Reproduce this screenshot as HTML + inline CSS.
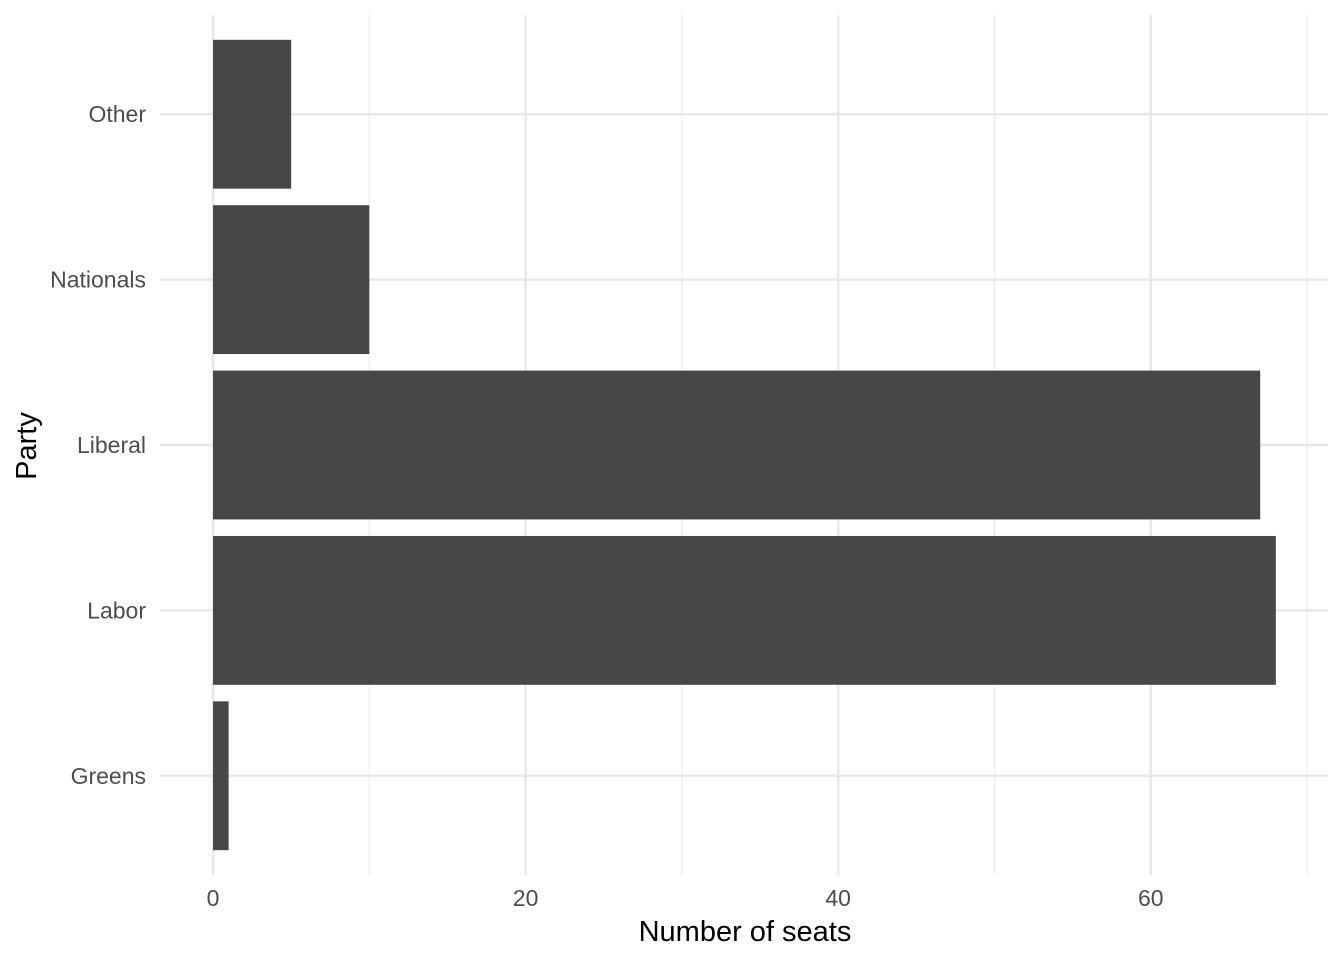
<!DOCTYPE html>
<html><head><meta charset="utf-8"><style>
html,body{margin:0;padding:0;background:#fff;}
svg{display:block;font-family:"Liberation Sans",Arial,sans-serif;}
</style></head><body>
<svg id="chart" width="1344" height="960"></svg>
<script>
const categories = ["Greens","Labor","Liberal","Nationals","Other"];
const seats = [1, 68, 67, 10, 5];
const xTicks = [0, 20, 40, 60];
const xMinor = [10, 30, 50, 70];

const NS = "http://www.w3.org/2000/svg";
const svg = document.getElementById("chart");
const panel = {left:160, right:1328, top:15, bottom:875};
const x0px = 213, pxPerUnit = 15.63;
function xs(v){ return x0px + v * pxPerUnit; }
const bandStep = (panel.bottom - panel.top) / (categories.length + 0.2);
function ys(i){ return panel.bottom - bandStep * (0.6 + i); }

function mk(tag, attrs, parent){
  const e = document.createElementNS(NS, tag);
  for (const k in attrs) e.setAttribute(k, attrs[k]);
  (parent || svg).appendChild(e);
  return e;
}

const grid = mk("g", {});


xMinor.forEach(v => {
  const l = mk("line", {x1:xs(v), x2:xs(v), y1:panel.top, y2:panel.bottom, stroke:"#ebebeb", "stroke-width":1.1}, grid);
  
  
});
xTicks.forEach(v => {
  const l = mk("line", {x1:xs(v), x2:xs(v), y1:panel.top, y2:panel.bottom, stroke:"#e6e6e6", "stroke-width":2.2}, grid);
  
  
});
categories.forEach((c, i) => {
  const l = mk("line", {x1:panel.left, x2:panel.right, y1:ys(i), y2:ys(i), stroke:"#e6e6e6", "stroke-width":2.2}, grid);
  
  
});

const bars = mk("g", {});


categories.forEach((c, i) => {
  const h = bandStep * 0.9;
  const r = mk("rect", {x:xs(0), y:ys(i) - h/2, width:xs(seats[i]) - xs(0), height:h, fill:"#474747"}, bars);
  
  
});

categories.forEach((c, i) => {
  const t = mk("text", {x:146, y:ys(i) + 8, "text-anchor":"end", "font-size":23, fill:"#4d4d4d"});
  t.textContent = c;
  
  
});
xTicks.forEach(v => {
  const t = mk("text", {x:xs(v), y:906, "text-anchor":"middle", "font-size":23, fill:"#4d4d4d"});
  t.textContent = v;
  
  
});

const xt = mk("text", {x:745, y:941, "text-anchor":"middle", "font-size":29, fill:"#000"});
xt.textContent = "Number of seats";


const yt = mk("text", {x:0, y:0, "text-anchor":"middle", "font-size":29, fill:"#000", transform:"translate(36,446) rotate(-90)"});
yt.textContent = "Party";


</script>
</body></html>
